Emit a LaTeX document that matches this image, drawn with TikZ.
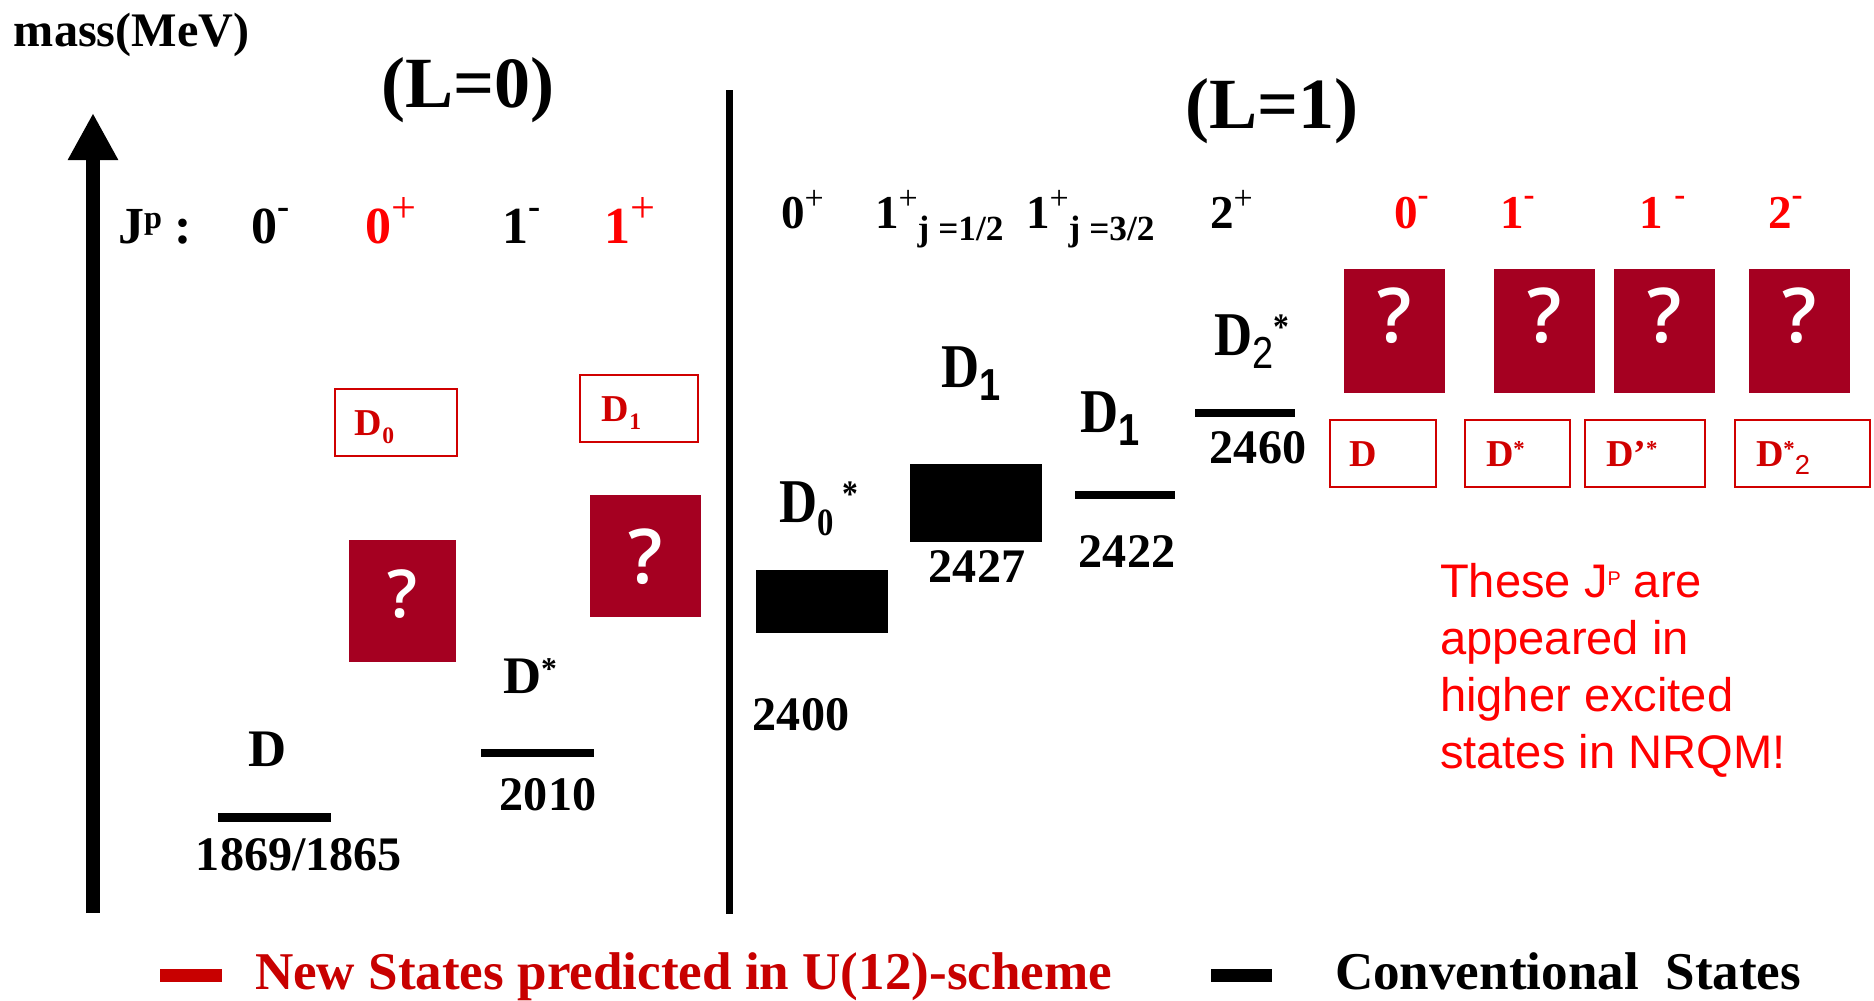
\documentclass[tikz,border=0pt]{standalone}
\usepackage{fontspec}
\setmainfont{Liberation Serif}
\setsansfont{Liberation Sans}
\newfontfamily\qmarkfont{Open Sans}[UprightFont={* Semibold}]
\usetikzlibrary{arrows.meta,positioning}

\definecolor{qred}{HTML}{A50021}
\definecolor{jred}{HTML}{FF0000}
\definecolor{boxred}{HTML}{D00000}
\definecolor{legred}{HTML}{C80000}

% small raised / lowered marks
\newcommand{\upsign}[1]{\raisebox{0.48em}{\scalebox{0.7}{#1}}}
\newcommand{\plussup}[1][0.85]{\raisebox{0.4em}{\scalebox{#1}{\mdseries +}}}
\newcommand{\starsup}{\raisebox{0.25em}{\scalebox{0.6}{*}}}
\newcommand{\lowidx}[1]{\raisebox{-0.22em}{\scalebox{0.62}{#1}}}
\newcommand{\sfidx}[1]{\raisebox{-0.22em}{\scalebox{0.72}{\sffamily #1}}}
\newcommand{\stretchy}[1]{\scalebox{1}[1.18]{#1}}

\begin{document}
\begin{tikzpicture}[
    x=0.01cm, y=-0.01cm,
    every node/.style={inner sep=0pt, outer sep=0pt},
    title/.style={anchor=base, font=\bfseries\fontsize{20.5pt}{24pt}\selectfont},
    jpl/.style={anchor=base west, font=\bfseries\fontsize{14.8pt}{18pt}\selectfont},
    jpr/.style={anchor=base west, font=\bfseries\fontsize{13.4pt}{16pt}\selectfont},
    lvlname/.style={anchor=base west, font=\bfseries\fontsize{15pt}{18pt}\selectfont},
    mev/.style={anchor=base, font=\bfseries\fontsize{13.7pt}{16pt}\selectfont},
    bar/.style={fill=black, minimum height=0.085cm},
    qbox/.style={fill=qred, text=white, minimum width=1.01cm, minimum height=1.24cm,
      text depth=0.32cm, font=\qmarkfont\fontsize{21.5pt}{24pt}\selectfont},
    newbox/.style={draw=boxred, line width=0.6pt, minimum height=0.67cm},
    newlbl/.style={text=boxred, text height=0.25cm, text depth=0cm,
      font=\bfseries\fontsize{10.8pt}{13pt}\selectfont},
    legtext/.style={anchor=base west, font=\bfseries\fontsize{15.1pt}{18pt}\selectfont},
    massaxis/.style={line width=0.14cm, -{Triangle[length=0.47cm, width=0.47cm]}},
  ]
  \useasboundingbox (0,0) rectangle (1874,1000);

  % mass axis and divider
  \coordinate (axbot) at (93,913);
  \coordinate (axtop) at (93,113);
  \draw[massaxis] (axbot) -- (axtop);
  \node[anchor=base west, font=\bfseries\fontsize{13.7pt}{16pt}\selectfont] (masslbl) at (14,46) {mass(MeV)};
  \coordinate (septop) at (729.5,90);
  \coordinate (sepbot) at (729.5,914);
  \draw[line width=0.07cm] (septop) -- (sepbot);

  % headings
  \node[title] (Lzero) at (468,107) {(L=0)};
  \node[title] (Lone) at (1272,128) {(L=1)};

  % J^P row, L=0
  \node[jpl] (jplbl) at (118,243) {J\raisebox{0.28em}{\scalebox{0.62}{p}}\ :};
  \node[jpl] (jp0m) at (251,243) {0\upsign{-}};
  \node[jpl, text=jred] (jp0p) at (365,243) {0\plussup};
  \node[jpl] (jp1m) at (502,243) {1\upsign{-}};
  \node[jpl, text=jred] (jp1p) at (604,243) {1\plussup};

  % J^P row, L=1
  \node[jpr] (jq0p) at (781,228) {0\plussup[0.72]};
  \node[jpr] (jq1a) at (875,228) {1\plussup[0.72]\raisebox{-0.27em}{\scalebox{0.75}{j =1/2}}};
  \node[jpr] (jq1b) at (1026,228) {1\plussup[0.72]\raisebox{-0.27em}{\scalebox{0.75}{j =3/2}}};
  \node[jpr] (jq2p) at (1210,228) {2\plussup[0.72]};
  \node[jpr, text=jred] (jq0m) at (1394,228) {0\upsign{-}};
  \node[jpr, text=jred] (jq1m) at (1500,228) {1\upsign{-}};
  \node[jpr, text=jred] (jq1n) at (1639,228) {1~\upsign{-}};
  \node[jpr, text=jred] (jq2m) at (1768,228) {2\upsign{-}};

  % conventional states, L=0
  \node[bar, minimum width=1.13cm] (Dlev) at (274.5,817.5) {};
  \node[lvlname] (Dlbl) at (248,766) {D};
  \node[mev] (Dmass) at (299,870) {1869/1865};
  \node[bar, minimum width=1.13cm] (Dstarlev) at (537.5,753) {};
  \node[lvlname] (Dstarlbl) at (503,693) {D\starsup};
  \node[mev] (Dstarmass) at (548,810) {2010};

  % conventional states, L=1
  \node[bar, minimum width=1.32cm, minimum height=0.63cm] (Dzslev) at (822,601.5) {};
  \node[lvlname] (Dzslbl) at (779,522) {\stretchy{D\lowidx{0}\,\starsup}};
  \node[mev] (Dzsmass) at (801,730) {2400};
  \node[bar, minimum width=1.32cm, minimum height=0.78cm] (Donealev) at (976,503) {};
  \node[lvlname] (Donealbl) at (941,387) {\stretchy{D\sfidx{1}}};
  \node[mev] (Doneamass) at (977,582) {2427};
  \node[bar, minimum width=1.0cm] (Doneblev) at (1125,495) {};
  \node[lvlname] (Donelbl) at (1080,432) {\stretchy{D\sfidx{1}}};
  \node[mev] (Donebmass) at (1127,567) {2422};
  \node[bar, minimum width=1.0cm] (Dtslev) at (1245,413) {};
  \node[lvlname] (Dtslbl) at (1214,355) {\stretchy{D\sfidx{\mdseries 2}\starsup}};
  \node[mev] (Dtsmass) at (1258,463) {2460};

  % predicted states, L=0
  \node[qbox, minimum width=1.07cm, minimum height=1.22cm, text depth=0.14cm,
    font=\qmarkfont\fontsize{18.8pt}{22pt}\selectfont] (qzp) at (402.5,601) {?};
  \node[qbox, minimum width=1.11cm, minimum height=1.22cm, text depth=0cm] (qop) at (645.5,556) {?};
  \node[newbox, minimum width=1.22cm] (nzp) at (396,422.5) {};
  \node[newlbl, right=0.2cm of nzp.west] (nzplbl) {D\lowidx{0}};
  \node[newbox, minimum width=1.18cm] (nop) at (639,408.5) {};
  \node[newlbl, right=0.22cm of nop.west] (noplbl) {D\lowidx{1}};

  % predicted states, L=1
  \node[qbox] (qa) at (1394.5,331) {?};
  \node[qbox] (qb) at (1544.5,331) {?};
  \node[qbox] (qc) at (1664.5,331) {?};
  \node[qbox] (qd) at (1799.5,331) {?};
  \node[newbox, minimum width=1.06cm] (na) at (1383,453.5) {};
  \node[newlbl, right=0.19cm of na.west] (nalbl) {D};
  \node[newbox, minimum width=1.05cm] (nb) at (1517.5,453.5) {};
  \node[newlbl, right=0.21cm of nb.west] (nblbl) {D\starsup};
  \node[newbox, minimum width=1.20cm] (nc) at (1645,453.5) {};
  \node[newlbl, right=0.21cm of nc.west] (nclbl) {D’\starsup};
  \node[newbox, minimum width=1.35cm] (nd) at (1802.5,453.5) {};
  \node[newlbl, right=0.21cm of nd.west] (ndlbl) {D\starsup\sfidx{\mdseries 2}};

  % note
  \node[anchor=north west, align=left, text=jred,
    font=\sffamily\fontsize{13.4pt}{16.2pt}\selectfont] (note) at (1440,563)
    {These J\raisebox{0.25em}{\scalebox{0.42}{P}} are\\appeared in\\higher excited\\states in NRQM!};

  % legend
  \node[bar, fill=legred, minimum width=0.62cm, minimum height=0.13cm] (newkey) at (191,975.5) {};
  \node[legtext, text=legred] (newtxt) at (255,989) {New States predicted in U(12)-scheme};
  \node[bar, minimum width=0.61cm, minimum height=0.13cm] (convkey) at (1241.5,975.5) {};
  \node[legtext] (convtxt) at (1335,989) {Conventional~~States};
\end{tikzpicture}
\end{document}
